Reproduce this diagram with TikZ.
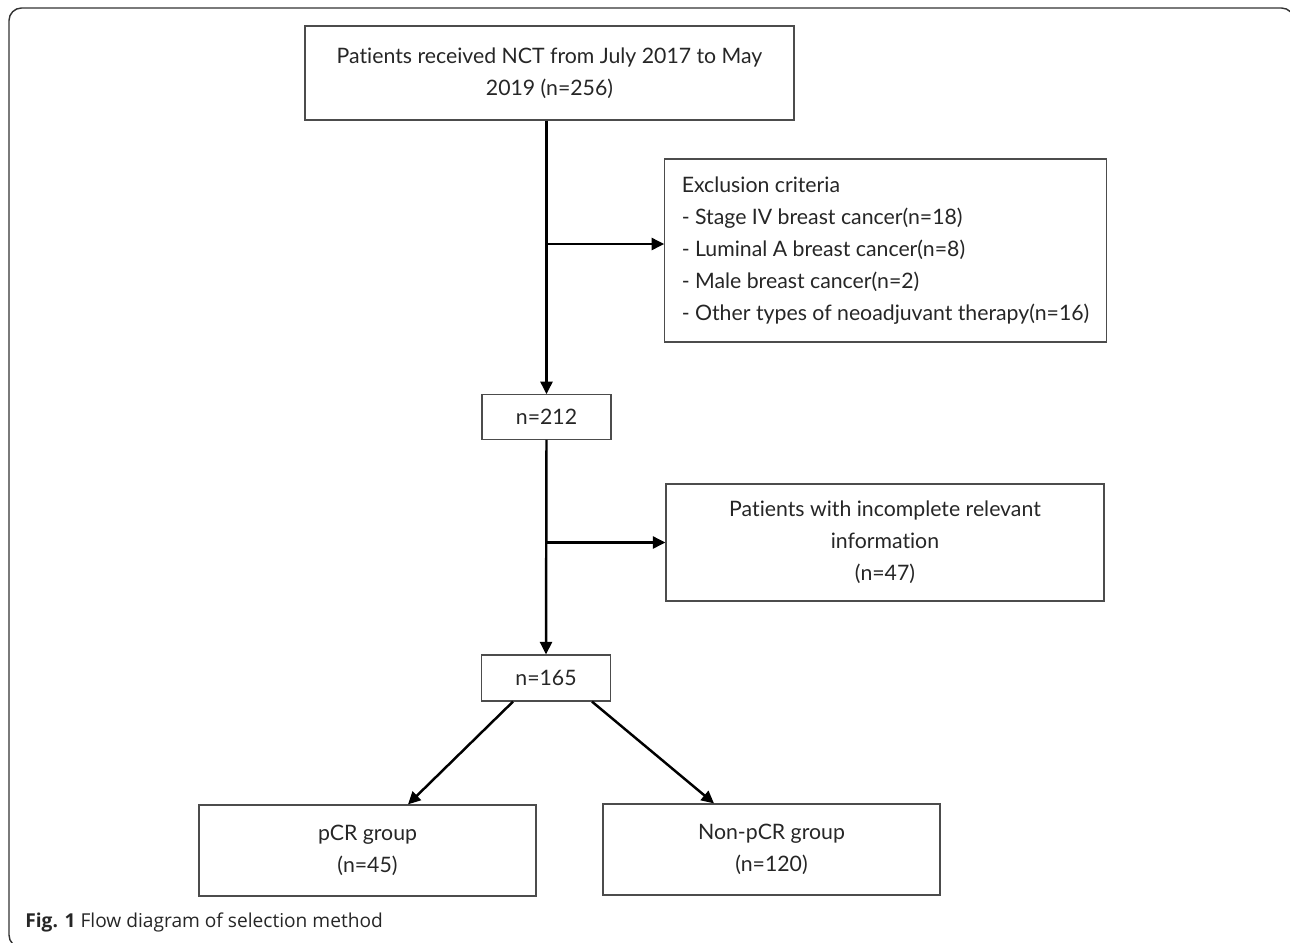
\documentclass[tikz,border=0pt]{standalone}
\usepackage{fontspec}
\setmainfont{Lato}[Ligatures=NoCommon]
\newfontfamily\capfont{Open Sans}
\usetikzlibrary{positioning,arrows.meta,calc}

\begin{document}
\begin{tikzpicture}[
    font=\fontsize{12.1}{18.3}\selectfont,
    >={Triangle[length=2.5mm,width=2.4mm]},
    comp/.style={
        draw=black!70, line width=0.7pt, fill=white, text=black!85,
        inner sep=3.4mm, align=center
    },
    count/.style={comp, minimum width=25.8mm, minimum height=8.9mm, inner sep=1mm},
    dep/.style={->, draw=black, line width=1.4pt},
    frame/.style={draw=black!80, line width=0.8pt, rounded corners=2.5mm},
]
\useasboundingbox (0,0) rectangle (25.8,-18.84);
\draw[frame] (0.18,-0.16) rectangle (25.88,-18.95);

% ---- Enrolment -----------------------------------------------------
\node[comp, minimum width=97.8mm, minimum height=18.8mm] (src) at (10.99,-1.46)
    {Patients received NCT from July 2017 to May\\2019 (n=256)};

% ---- Exclusions ----------------------------------------------------
\node[comp, align=left, minimum width=87.8mm, minimum height=36.6mm] (excl) at (17.71,-5.01)
    {Exclusion criteria\\
     - Stage IV breast cancer(n=18)\\
     - Luminal A breast cancer(n=8)\\
     - Male breast cancer(n=2)\\
     - Other types of neoadjuvant therapy(n=16)};
\node[count] (n212) at (10.93,-8.34) {n=212};
\node[comp, minimum width=87.6mm, minimum height=22.2mm] (incl) at (17.70,-10.85)
    {Patients with incomplete relevant\\information\\(n=47)};
\node[count, minimum height=9.2mm] (n165) at (10.92,-13.56) {n=165};
\coordinate (exclin) at ([yshift=1.3mm]excl.west);

% ---- Groups --------------------------------------------------------
\node[comp, minimum width=67.4mm, minimum height=18.2mm] (pcr) at (7.35,-17.01)
    {pCR group\\(n=45)};
\node[comp, minimum width=67.4mm, minimum height=18.2mm] (npcr) at (15.43,-16.99)
    {Non-pCR group\\(n=120)};

% ---- Flow ----------------------------------------------------------
\draw[dep] (n212.north |- src.south) -- (n212.north);
\draw[dep] (n212.north |- exclin) -- (exclin);
\draw[dep] (n212.south) -- (n165.north);
\draw[dep] (n212.south |- incl.west) -- (incl.west);
\draw[dep] ([xshift=-6.6mm]n165.south) -- ([xshift=8.1mm]pcr.north);
\draw[dep] ([xshift=9.2mm]n165.south) -- ([xshift=-11.5mm]npcr.north);

% ---- Caption -------------------------------------------------------
\node[anchor=west, inner sep=0pt, font=\capfont\fontsize{10.9}{12}\selectfont, text=black!85]
    (cap) at (0.5,-18.44) {\textbf{Fig. 1} Flow diagram of selection method};
\end{tikzpicture}
\end{document}
